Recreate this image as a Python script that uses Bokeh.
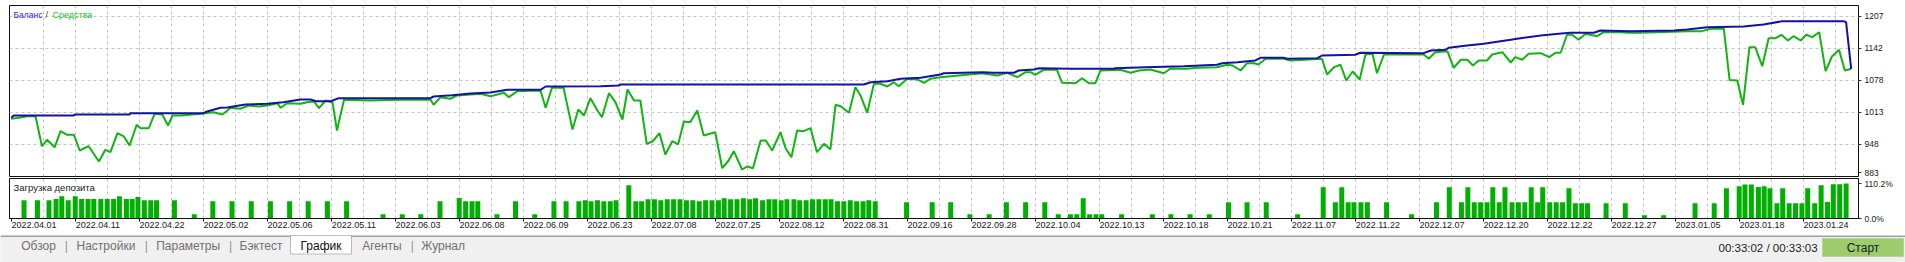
from bokeh.plotting import figure
from bokeh.layouts import column
from bokeh.models import Range1d, LinearAxis, FixedTicker, Label, BoxAnnotation, Grid
from bokeh.embed import file_html
from bokeh.resources import INLINE

# ---------------- data ----------------
date_labels = ["2022.04.01", "2022.04.11", "2022.04.22", "2022.05.02", "2022.05.06", "2022.05.11",
               "2022.06.03", "2022.06.08", "2022.06.09", "2022.06.23", "2022.07.08", "2022.07.25",
               "2022.08.12", "2022.08.31", "2022.09.16", "2022.09.28", "2022.10.04", "2022.10.13",
               "2022.10.18", "2022.10.21", "2022.11.07", "2022.11.22", "2022.12.07", "2022.12.20",
               "2022.12.22", "2022.12.27", "2023.01.05", "2023.01.18", "2023.01.24"]
date_ticks = [0, 10, 20, 30, 40, 50, 60, 70, 80, 90, 100, 110, 120, 130, 140, 150, 160, 170,
              180, 190, 200, 210, 220, 230, 240, 250, 260, 270, 280]

y_ticks = [883, 947.85, 1012.7, 1077.55, 1142.4, 1207.25]
y_tick_labels = ["883", "948", "1013", "1078", "1142", "1207"]

load_ticks = [0, 110.2]
load_tick_labels = ["0.0%", "110.2%"]

eq_x = [0, 1.2, 2.5, 3.8, 4.8, 5.6, 6.8, 7.7, 8.75, 9.8, 10.7, 12.1, 13.7, 14.7, 15.5, 16.6, 17.6, 18.5,
        19.6, 20.2, 21.5, 22.4, 23.6, 24.5, 25.2, 26.5, 29.6, 31.6, 33.0, 34.3, 35.8, 37.1, 38.6, 40.0,
        41.6, 42.1, 43.1, 45.2, 46.25, 47.3, 48.1, 49.1, 50.2, 50.9, 52.0, 56.1, 60.8, 65.5, 66.0, 67.1,
        68.6, 69.7, 73.3, 74.9, 77.0, 77.75, 79.1, 82.7, 83.5, 84.5, 86.3, 87.7, 88.6, 89.5, 90.5, 91.6,
        92.3, 93.4, 94.4, 95.5, 96.3, 97.3, 98.3, 99.3, 100.2, 101.3, 102.2, 103.3, 104.2, 105.1, 106.1,
        107.2, 108.2, 110.0, 111.1, 112.1, 112.9, 114.2, 115.0, 115.9, 117.1, 117.9, 118.9, 120.2, 121.0,
        121.9, 122.8, 123.8, 124.9, 125.9, 127.0, 128.0, 128.8, 129.6, 130.9, 131.9, 132.7, 133.75, 134.8,
        135.8, 136.9, 137.9, 138.7, 140.0, 141.6, 142.6, 143.6, 145.2, 151.7, 154.1, 155.6, 157.2, 158.5,
        159.3, 160.0, 161.3, 163.4, 164.2, 166.3, 167.3, 168.4, 169.4, 170.2, 173.3, 174.9, 176.2, 178.0,
        180.1, 181.1, 183.75, 185.3, 188.4, 190.0, 190.8, 192.1, 193.1, 194.2, 194.9, 196.0, 198.8, 199.9,
        204.8, 205.6, 206.7, 207.7, 208.6, 209.6, 210.7, 211.6, 212.7, 213.4, 214.5, 220.7, 221.5, 222.5,
        224.4, 225.4, 226.5, 227.5, 228.4, 229.3, 230.6, 231.4, 233.0, 234.3, 235.0, 236.1, 237.1, 239.0,
        240.3, 241.3, 242.1, 243.1, 243.9, 244.9, 246.0, 247.8, 248.8, 251.4, 252.75, 254.6, 261.9, 264.2,
        265.5, 267.6, 268.5, 269.7, 270.6, 271.6, 272.5, 273.6, 274.6, 275.7, 276.6, 277.6, 278.5, 279.6,
        280.5, 281.4, 282.5, 283.5, 284.5, 285.6, 286.5, 287.5]
eq_y = [999.9, 1002, 1005.2, 1005.2, 944.4, 957.4, 942.4, 974.8, 967.5, 967.5, 935.7, 944.4, 913.4, 937.1,
        932.2, 970.8, 964.1, 945.8, 987.8, 980.9, 980.9, 1010.1, 1008.6, 986.4, 1006.6, 1006.6, 1010.1,
        1013.3, 1008.6, 1022.2, 1020.2, 1026.9, 1024.9, 1026.9, 1031.5, 1022.2, 1031.5, 1030.3, 1033.6,
        1035.0, 1021.4, 1037.0, 1033.6, 976.2, 1038.4, 1037.0, 1038.4, 1039.0, 1028.3, 1043.7, 1040.5,
        1047.2, 1050.6, 1045.7, 1052.6, 1043.7, 1055.9, 1057.3, 1022.2, 1062.8, 1062.8, 978.3, 1018.8,
        1006.6, 1041.7, 1016.8, 1003.2, 1051.8, 1033.6, 998.5, 1059.3, 1037.0, 1037.0, 949.3, 953.9, 970.8,
        927.6, 954.5, 947.9, 994.5, 993.0, 1016.8, 966.1, 972.8, 899.8, 915.4, 934.3, 897.2, 903.3, 899.8,
        956.0, 956.0, 935.7, 972.8, 940.4, 922.1, 976.2, 974.8, 980.9, 932.2, 949.3, 937.7, 1028.3, 1025.5,
        1012.1, 1064.0, 1047.2, 1012.1, 1070.9, 1070.9, 1065.4, 1074.1, 1066.0, 1081.0, 1079.6, 1072.9,
        1081.0, 1084.2, 1092.3, 1087.7, 1093.2, 1084.2, 1094.4, 1094.4, 1089.1, 1099.2, 1099.2, 1072.9,
        1072.1, 1082.2, 1072.1, 1072.1, 1097.8, 1099.2, 1093.2, 1097.8, 1099.8, 1092.3, 1101.3, 1101.3,
        1103.3, 1104.5, 1109.4, 1108.0, 1097.8, 1112.6, 1112.6, 1110.0, 1121.5, 1121.5, 1118.1, 1121.5,
        1089.7, 1104.5, 1109.4, 1077.6, 1095.8, 1079.6, 1130.2, 1131.7, 1092.3, 1130.2, 1130.2, 1121.5,
        1134.9, 1136.9, 1103.3, 1119.5, 1119.5, 1108.0, 1118.1, 1118.1, 1130.2, 1134.9, 1114.0, 1124.8,
        1119.5, 1131.7, 1132.9, 1124.8, 1133.7, 1133.7, 1170.2, 1170.2, 1160.0, 1172.2, 1167.3, 1175.4,
        1175.4, 1174.2, 1174.2, 1177.5, 1177.5, 1182.3, 1182.3, 1078.4, 1077.6, 1028.3, 1145.0, 1145.0,
        1106.5, 1163.3, 1163.3, 1170.2, 1158.6, 1167.3, 1158.6, 1170.2, 1165.3, 1175.4, 1096.4, 1126.2,
        1139.8, 1097.8, 1101.3]

bal_x = [0, 0.4, 9.8, 9.9, 18.5, 18.6, 30.0, 30.6, 32.7, 33.75, 36.6, 40.0, 42.5, 45.2, 46.8, 47.6, 49.9,
         51.2, 65.5, 66.0, 68.9, 71.8, 74.9, 77.5, 82.7, 83.5, 92.1, 94.9, 95.2, 133.2, 134.3, 136.9, 139.0,
         142.1, 145.2, 145.7, 151.7, 153.5, 156.7, 157.4, 159.8, 160.6, 165.5, 172.3, 172.5, 177.2, 183.2,
         188.4, 189.2, 191.6, 194.4, 195.2, 198.8, 199.4, 204.1, 204.8, 210.0, 210.8, 220.7, 221.8, 224.1,
         224.6, 227.5, 230.1, 232.7, 234.3, 235.8, 239.0, 241.8, 243.6, 247.3, 248.3, 253.0, 259.8, 261.9,
         265.0, 270.7, 273.8, 276.45, 276.7, 286.3, 286.7, 287.5]
bal_y = [1002, 1006.6, 1006.6, 1008.6, 1008.6, 1011.3, 1011.3, 1014.7, 1022.2, 1022.8, 1028.9, 1030.3,
         1033.6, 1039.0, 1039.0, 1035.6, 1035.6, 1041.7, 1041.7, 1045.1, 1047.8, 1051.2, 1053.2, 1058.7,
         1058.7, 1065.4, 1066.0, 1067.4, 1069.4, 1069.4, 1074.1, 1076.1, 1081.0, 1083.0, 1089.7, 1092.3,
         1094.4, 1093.2, 1093.2, 1097.8, 1099.8, 1102.5, 1101.3, 1101.3, 1102.5, 1104.5, 1106.5, 1109.4,
         1112.6, 1114.6, 1118.1, 1123.6, 1123.6, 1121.5, 1122.7, 1128.2, 1129.6, 1133.7, 1132.9, 1138.4,
         1139.8, 1143.8, 1148.5, 1151.9, 1157.2, 1160.0, 1163.3, 1168.75, 1172.2, 1174.2, 1174.2, 1178.9,
         1177.5, 1178.9, 1180.9, 1185.6, 1187.0, 1191.0, 1197.0, 1197.7, 1197.7, 1195.7, 1101.3]

load_x = [2.0, 4.1, 5.9, 7.0, 7.9, 8.9, 10.0, 11.0, 12.0, 12.9, 14.0, 15.0, 16.0, 16.9, 18.0, 18.9, 19.8,
          20.8, 21.8, 22.7, 25.5, 28.6, 31.5, 34.5, 37.5, 40.5, 43.5, 46.4, 49.4, 52.4, 58.1, 61.1, 64.0,
          67.0, 70.0, 71.0, 72.0, 72.9, 75.9, 78.8, 81.8, 84.8, 86.7, 88.7, 89.7, 90.6, 91.6, 92.6, 93.6,
          94.5, 96.5, 97.6, 98.5, 99.5, 100.5, 101.5, 102.5, 103.5, 104.5, 105.5, 106.5, 107.5, 108.5,
          109.5, 110.5, 111.4, 112.4, 113.4, 114.4, 115.4, 116.3, 117.4, 118.4, 119.3, 120.3, 121.2, 122.3,
          123.2, 124.2, 125.2, 126.2, 127.2, 128.1, 129.1, 130.1, 131.1, 132.1, 133.1, 134.0, 135.0, 139.9,
          143.9, 146.8, 149.8, 152.8, 155.5, 158.5, 161.5, 163.6, 165.5, 166.5, 167.5, 168.5, 169.5, 170.4,
          173.5, 178.3, 181.2, 184.2, 187.2, 190.2, 193.1, 196.1, 201.0, 205.0, 206.9, 207.9, 208.9, 209.8,
          210.9, 211.9, 214.9, 218.8, 222.7, 224.7, 226.6, 227.6, 228.6, 229.6, 230.6, 231.5, 232.5, 233.4,
          234.5, 235.5, 236.5, 237.5, 238.5, 239.3, 240.4, 241.4, 242.4, 243.4, 244.4, 245.4, 246.3, 249.2,
          252.2, 255.2, 258.2, 263.1, 266.1, 268.0, 270.0, 270.9, 271.9, 273.0, 273.9, 274.8, 275.9, 276.8,
          277.8, 278.8, 279.8, 280.7, 281.8, 282.8, 283.8, 284.7, 285.7, 286.7]
load_y = [57.6, 57.6, 57.6, 61.7, 70.2, 57.6, 70.2, 61.7, 61.7, 61.7, 61.7, 61.7, 61.7, 70.2, 61.7, 61.7,
          68.0, 57.6, 57.6, 57.6, 57.6, 13.5, 54.5, 54.5, 54.5, 54.5, 54.5, 54.5, 54.5, 54.5, 13.5, 13.5,
          13.5, 54.5, 64.9, 54.5, 54.5, 54.5, 13.5, 54.5, 13.5, 54.5, 54.5, 54.5, 57.6, 54.5, 57.6, 54.5,
          54.5, 57.6, 104.9, 54.5, 54.5, 60.8, 60.8, 57.6, 60.8, 60.8, 60.8, 57.6, 57.6, 54.5, 57.6, 57.6,
          57.6, 63.9, 60.8, 60.8, 63.9, 60.8, 63.9, 57.6, 60.8, 60.8, 57.6, 60.8, 60.8, 57.6, 57.6, 60.8,
          60.8, 60.8, 60.8, 54.5, 54.5, 57.6, 54.5, 54.5, 57.6, 54.5, 51.3, 51.3, 51.3, 13.5, 13.5, 51.3,
          51.3, 51.3, 13.5, 13.5, 13.5, 63.9, 13.5, 13.5, 13.5, 13.5, 13.5, 13.5, 13.5, 13.5, 51.3, 51.3,
          51.3, 13.5, 98.6, 51.3, 98.6, 51.3, 51.3, 51.3, 51.3, 51.3, 13.5, 51.3, 98.6, 51.3, 98.6, 51.3,
          51.3, 51.3, 98.6, 51.3, 98.6, 51.3, 51.3, 51.3, 98.6, 51.3, 98.6, 51.3, 51.3, 51.3, 95.4, 48.2,
          48.2, 48.2, 48.2, 48.2, 10.4, 10.4, 48.2, 48.2, 95.4, 101.7, 107.0, 107.0, 99.5, 101.7, 95.4,
          48.2, 95.4, 48.2, 48.2, 48.2, 95.4, 48.2, 104.9, 52.3, 108.0, 108.0, 110.2]

tab_names = ["Обзор", "Настройки", "Параметры", "Бэктест", "График", "Агенты", "Журнал"]
status_text = "00:33:02 / 00:33:03"
button_text = "Старт"

# ---------------- style ----------------
FONT = "Liberation Sans"
W = 1905
FL, FR = 9, 1858          # frame left / right edge on the page (chart panels)
BLUE = "#1212a8"
GREEN = "#12b412"
BAR = "#00b000"
GRID = "#c4c4c4"
x_range = Range1d(-0.27, 288.64)
xgrid_ticks = [v for v in range(5, 289, 5)]


def base(height, y_range, top, bottom):
    p = figure(width=W, height=height, x_range=x_range, y_range=y_range,
               output_backend="svg", toolbar_location=None,
               x_axis_location=None, y_axis_location=None,
               min_border_left=FL, min_border_right=W - FR,
               min_border_top=top, min_border_bottom=bottom)
    for g in list(p.grid):
        g.visible = False
    p.outline_line_color = "#101010"
    p.outline_line_width = 1
    p.background_fill_color = "white"
    p.border_fill_color = "white"
    p.add_layout(Grid(dimension=0, ticker=FixedTicker(ticks=xgrid_ticks), grid_line_color=GRID,
                      grid_line_dash="3 3", grid_line_width=1))
    return p


def right_axis(ticks, labels):
    return LinearAxis(ticker=FixedTicker(ticks=ticks),
                      major_label_overrides={t: l for t, l in zip(ticks, labels)},
                      major_tick_out=3, major_tick_in=0, minor_tick_out=0, minor_tick_in=0,
                      axis_line_color=None, major_tick_line_color="#303030",
                      major_label_standoff=3, major_label_text_font=FONT,
                      major_label_text_font_size="8.5px", major_label_text_color="#202020")


# ---------------- main panel ----------------
pA = base(178, Range1d(883, 1229.5), 5, 2)
pA.add_layout(Grid(dimension=1, ticker=FixedTicker(ticks=y_ticks), grid_line_color=GRID,
                   grid_line_dash="3 3", grid_line_width=1))
# lowest label lifted a little so that it is not cut by the panel below
LIFT = 8
label_ticks = [y_ticks[0] + LIFT] + y_ticks[1:]
pA.add_layout(right_axis(label_ticks, y_tick_labels), "right")
pA.line(eq_x, eq_y, line_color=GREEN, line_width=2)
pA.line(bal_x, bal_y, line_color=BLUE, line_width=2)
pA.add_layout(Label(x=4, y=162, x_units="screen", y_units="screen", text="Баланс",
                    text_font=FONT, text_font_size="8.5px", text_color="#2a2ad0", text_baseline="middle"))
pA.add_layout(Label(x=36, y=162, x_units="screen", y_units="screen", text="/",
                    text_font=FONT, text_font_size="9px", text_color="#404040", text_baseline="middle"))
pA.add_layout(Label(x=43, y=162, x_units="screen", y_units="screen", text="Средства",
                    text_font=FONT, text_font_size="9px", text_color="#20c020", text_baseline="middle"))

# ---------------- deposit load panel ----------------
pB = base(57, Range1d(0, 125.9), 0, 17)
pB.add_layout(right_axis(load_ticks, load_tick_labels), "right")
pB.vbar(x=load_x, top=load_y, width=0.78, fill_color=BAR, line_color=None)
ax_ticks = LinearAxis(ticker=FixedTicker(ticks=date_ticks),
                      major_label_overrides={t: "" for t in date_ticks},
                      major_tick_out=3, major_tick_in=0, minor_tick_out=0, minor_tick_in=0,
                      axis_line_color="#101010", major_tick_line_color="#101010",
                      major_label_standoff=0, major_label_text_font_size="0px")
pB.add_layout(ax_ticks, "below")
LABEL_SHIFT = 3.55
lab_pos = [t + LABEL_SHIFT for t in date_ticks]
ax_labels = LinearAxis(ticker=FixedTicker(ticks=lab_pos),
                       major_label_overrides={p: l for p, l in zip(lab_pos, date_labels)},
                       major_tick_out=0, major_tick_in=0, minor_tick_out=0, minor_tick_in=0,
                       axis_line_color=None, major_label_standoff=0,
                       major_label_text_font=FONT, major_label_text_font_size="9px",
                       major_label_text_color="#202020")
pB.add_layout(ax_labels, "below")
pB.add_layout(Label(x=4, y=31, x_units="screen", y_units="screen", text="Загрузка депозита",
                    text_font=FONT, text_font_size="9.5px", text_color="#202020", text_baseline="middle"))

# ---------------- tab bar (page pixel coordinates, frame spans the whole width) ----------------
pC = figure(width=W, height=27, x_range=Range1d(0, W), y_range=Range1d(262, 235),
            output_backend="svg", toolbar_location=None,
            x_axis_location=None, y_axis_location=None,
            min_border_left=0, min_border_right=0, min_border_top=0, min_border_bottom=0)
pC.frame_align = False
for g in list(pC.grid):
    g.visible = False
pC.outline_line_color = None
pC.background_fill_color = "#f0f0f0"
pC.border_fill_color = "#f0f0f0"
pC.add_layout(BoxAnnotation(left=0, right=W, top=235, bottom=236, fill_color="#505050",
                            fill_alpha=1, line_color=None))
pC.add_layout(BoxAnnotation(left=290, right=351, top=235, bottom=253.5, fill_color="white",
                            fill_alpha=1, line_color="#303030", line_width=1))
tab_x = [20.7, 76, 155.7, 239, 300, 361.7, 420.7]
for name, tx in zip(tab_names, tab_x):
    pC.add_layout(Label(x=tx, y=245, text=name, text_font=FONT, text_font_size="12px",
                        text_color="#101010" if name == "График" else "#707070",
                        text_baseline="middle"))
for sx in [65.7, 145.7, 230, 411.7]:
    pC.add_layout(Label(x=sx, y=245, text="|", text_font=FONT, text_font_size="12px",
                        text_color="#909090", text_baseline="middle", text_align="center"))
pC.add_layout(Label(x=1718, y=247, text=status_text, text_font=FONT, text_font_size="11.5px",
                    text_color="#202020", text_baseline="middle"))
pC.add_layout(BoxAnnotation(left=1822, right=1903, top=238, bottom=256, fill_color="#9ccc6c",
                            fill_alpha=1, line_color="#8cbc5c", line_width=1))
pC.add_layout(Label(x=1862.5, y=247, text=button_text, text_font=FONT, text_font_size="12px",
                    text_color="#202020", text_baseline="middle", text_align="center"))

layout = column(pA, pB, pC, spacing=0)
open("out.html", "w").write(file_html(layout, INLINE))
